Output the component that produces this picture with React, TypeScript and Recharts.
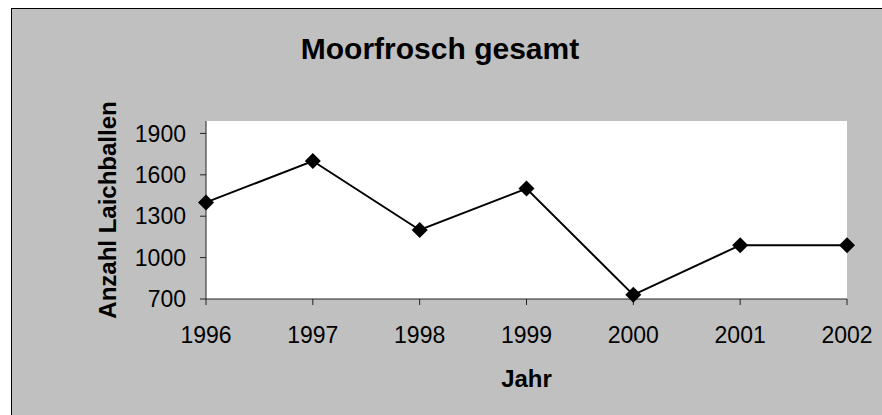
import { LineChart, Line, XAxis, YAxis, CartesianGrid } from 'recharts';

const years = ['1996', '1997', '1998', '1999', '2000', '2001', '2002'];
const laichballen = [1400, 1700, 1200, 1500, 730, 1090, 1090];
const yTicks = [700, 1000, 1300, 1600, 1900];

const data = years.map((jahr, i) => ({ jahr, wert: laichballen[i] }));

const font = '"Liberation Sans", Arial, sans-serif';

function Diamond(props: any) {
    const { cx, cy } = props;
    if (cx == null || cy == null) return null;
    const r = 8;
    return (
        <polygon
            points={`${cx},${cy - r} ${cx + r},${cy} ${cx},${cy + r} ${cx - r},${cy}`}
            fill="#000"
        />
    );
}

function YTitle(props: any) {
    const { viewBox } = props;
    const x = viewBox.x + 95;
    const y = viewBox.y + viewBox.height / 2;
    return (
        <text x={x} y={y} transform={`rotate(-90 ${x} ${y})`} textAnchor="middle" dominantBaseline="central"
            fontFamily={font} fontSize={24} fontWeight="bold" fill="#000">
            Anzahl Laichballen
        </text>
    );
}

function XTitle(props: any) {
    const { viewBox } = props;
    return (
        <text x={viewBox.x + viewBox.width / 2} y={viewBox.y + 79} textAnchor="middle" dominantBaseline="central"
            fontFamily={font} fontSize={24} fontWeight="bold" fill="#000">
            Jahr
        </text>
    );
}

export default function App() {
    return (
        <div style={{ position: 'absolute', left: 11, top: 8, width: 871, height: 407, boxSizing: 'border-box',
            borderTop: '1px solid #000', borderLeft: '1px solid #000', background: '#c0c0c0', fontFamily: font,
            overflow: 'hidden' }}>
            <div style={{ position: 'absolute', left: 0, top: 23, width: 856, textAlign: 'center',
                fontSize: 30, fontWeight: 'bold', color: '#000' }}>
                Moorfrosch gesamt
            </div>
            <LineChart width={870} height={406} data={data} margin={{ top: 112, right: 35, bottom: 0, left: 0 }}>
                <CartesianGrid fill="#fff" horizontal={false} vertical={false} />
                <XAxis dataKey="jahr" height={116} tickSize={6} tickMargin={22} stroke="#222"
                    tick={{ fill: '#000', fontSize: 23, fontFamily: font }} label={<XTitle />} />
                <XAxis xAxisId="top" dataKey="jahr" orientation="top" height={0} tick={false} tickLine={false}
                    stroke="#808080" />
                <YAxis domain={[700, 1990]} ticks={yTicks} width={194} tickSize={6} tickMargin={14} stroke="#222"
                    interval={0} tick={{ fill: '#000', fontSize: 23, fontFamily: font }} label={<YTitle />} />
                <YAxis yAxisId="right" orientation="right" width={0} domain={[700, 1990]} tick={false} tickLine={false}
                    stroke="#808080" />
                <Line type="linear" dataKey="wert" stroke="#000" strokeWidth={2} dot={<Diamond />}
                    activeDot={false} isAnimationActive={false} />
            </LineChart>
        </div>
    );
}
